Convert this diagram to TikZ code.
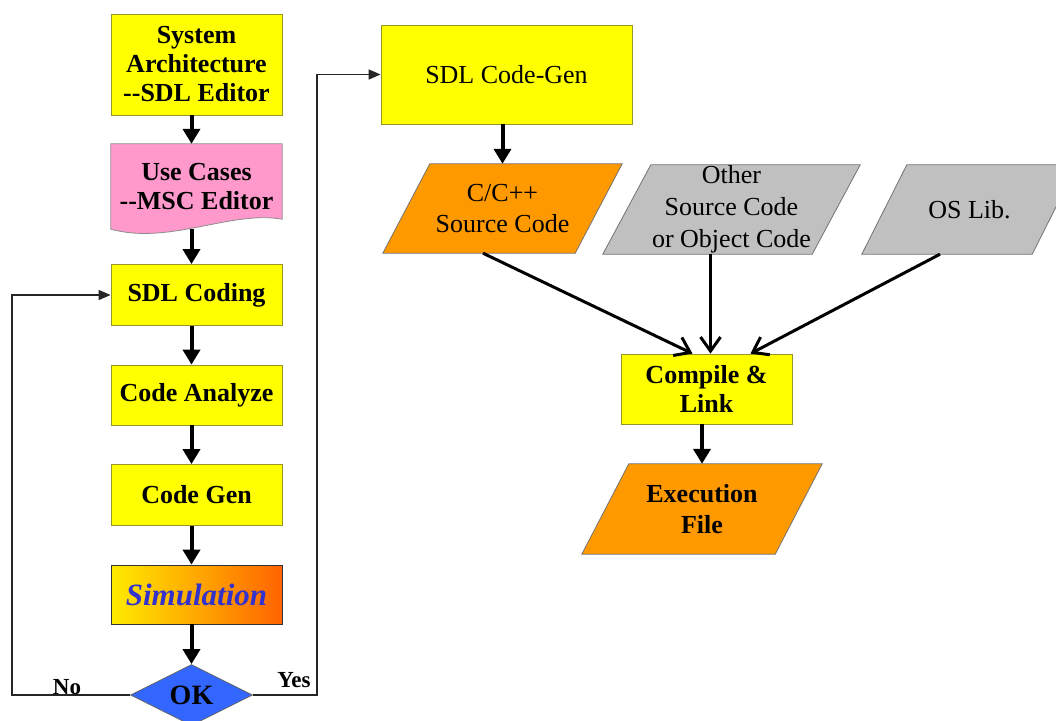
\documentclass[tikz,border=0pt]{standalone}
\usepackage{fontspec}
\setmainfont{Liberation Serif}
\usetikzlibrary{shapes.geometric,arrows.meta,backgrounds,calc}

\definecolor{boxyellow}{RGB}{255,255,0}
\definecolor{boxedge}{RGB}{150,150,40}
\definecolor{pinkfill}{RGB}{255,153,204}
\definecolor{orangefill}{RGB}{255,153,0}
\definecolor{grayfill}{RGB}{192,192,192}
\definecolor{okblue}{RGB}{51,102,255}
\definecolor{simtext}{RGB}{51,51,204}
\definecolor{simleft}{RGB}{255,235,0}
\definecolor{simmid}{RGB}{255,165,0}
\definecolor{simright}{RGB}{255,100,0}

\tikzset{
  txt/.style={font=\bfseries\fontsize{26}{29}\selectfont, align=center},
  flowbox/.style={txt, rectangle, draw=boxedge, line width=0.8pt, fill=boxyellow,
    minimum width=171pt, inner sep=0pt},
  databox/.style={rectangle, inner sep=0pt, minimum height=89pt,
    font=\fontsize{26}{31}\selectfont, align=center},
  dataedge/.style={draw=black!55, line width=0.8pt},
  bigarrow/.style={line width=4pt, -{Triangle[length=15pt,width=17pt]}},
  feedarrow/.style={line width=3pt, -{Straight Barb[length=14pt,width=20pt]}},
  loopline/.style={line width=1.3pt, draw=black!85, -{Triangle[length=12pt,width=10pt]}},
  answer/.style={font=\bfseries\fontsize{23}{23}\selectfont, inner sep=0pt},
}

% slanted data shape behind a named node: #1 node, #2 fill, #3 horizontal slant
\newcommand\slantshape[3]{%
  \begin{scope}[on background layer]
    \draw[dataedge, fill=#2] (#1.south west) -- ([xshift=-#3]#1.south east)
      -- (#1.north east) -- ([xshift=#3]#1.north west) -- cycle;
  \end{scope}}

\begin{document}
\begin{tikzpicture}[x=1pt,y=-1pt]
\useasboundingbox (0,0) rectangle (1056,720);
\begin{scope}[on background layer]
  \fill[white] (0,0) rectangle (1056,720);
\end{scope}
\clip (0,0) rectangle (1056,720);

% left column: design flow
\node[flowbox, minimum height=101pt] (arch) at (196.5,64.5)
  {System\\Architecture\\{-}{-}SDL Editor};
\node[txt, rectangle, minimum width=171pt, minimum height=85pt, inner sep=0pt] (uc)
  at (196.5,186.5) {Use Cases\\{-}{-}MSC Editor};
\begin{scope}[on background layer]
  \draw[fill=pinkfill, draw=black!45, line width=0.8pt]
    (uc.north west) -- (uc.north east) -- ($(uc.south east)+(0,-10)$)
    .. controls ($(uc.south east)+(-52,-19)$) and ($(uc.south west)+(59,16)$) ..
    (uc.south west) -- cycle;
\end{scope}
\node[flowbox, minimum height=61pt] (sdl) at (196.5,295) {SDL Coding};
\node[flowbox, minimum height=60pt] (analyze) at (196.5,395) {Code Analyze};
\node[flowbox, minimum height=61pt] (codegen) at (196.5,495) {Code Gen};
\node[flowbox, minimum height=59pt, left color=simleft, middle color=simmid,
  right color=simright, draw=black!80,
  font=\bfseries\itshape\fontsize{31}{31}\selectfont, text=simtext] (sim)
  at (196.5,594.5) {Simulation};
\node[diamond, aspect=2, draw=black!60, line width=0.8pt, fill=okblue,
  minimum width=122pt, minimum height=61pt, inner sep=0pt,
  font=\bfseries\fontsize{28}{28}\selectfont] (ok) at (191.5,695) {OK};

% right part: code generation and build
\node[flowbox, minimum width=251pt, minimum height=99pt,
  font=\fontsize{26}{29}\selectfont] (gen) at (506.5,74.5) {SDL Code-Gen};
\node[databox, minimum width=239pt] (cpp) at (502.5,208.5)
  {C/C++\\Source Code};
\slantshape{cpp}{orangefill}{47pt}
\node[databox, minimum width=257pt, font=\fontsize{26}{32}\selectfont] (other)
  at (731.5,209.5) {Other\\Source Code\\or Object Code};
\slantshape{other}{grayfill}{48pt}
\node[databox, minimum width=215pt] (oslib) at (969.5,209.5) {OS Lib.};
\slantshape{oslib}{grayfill}{45pt}
\node[flowbox, minimum height=70pt] (compile) at (706.5,389) {Compile \&\\Link};
\node[databox, minimum width=240pt, minimum height=90pt,
  font=\bfseries\fontsize{26}{31}\selectfont] (exec) at (702,509) {Execution\\File};
\slantshape{exec}{orangefill}{47pt}

% main flow arrows
\draw[bigarrow] (arch.south -| ok.north) -- (uc.north -| ok.north);
\draw[bigarrow] (uc.south -| ok.north) -- (sdl.north -| ok.north);
\draw[bigarrow] (sdl.south -| ok.north) -- (analyze.north -| ok.north);
\draw[bigarrow] (analyze.south -| ok.north) -- (codegen.north -| ok.north);
\draw[bigarrow] (codegen.south -| ok.north) -- (sim.north -| ok.north);
\draw[bigarrow] (sim.south -| ok.north) -- (ok.north);
\draw[bigarrow] (gen.south -| cpp.north) -- (cpp.north);
\draw[bigarrow] (compile.south -| exec.north) -- (exec.north);

% inputs of the build step
\coordinate (midtip) at ([xshift=4pt]compile.north);
\draw[feedarrow] ([xshift=-19.5pt]cpp.south) -- ([xshift=-14pt]compile.north);
\draw[feedarrow] (other.south -| midtip) -- (midtip);
\draw[feedarrow] ([xshift=-29.5pt]oslib.south) -- ([xshift=44pt]compile.north);

% decision branches
\coordinate (nocorner) at (12,695);
\coordinate (yescorner) at (317,695);
\draw[loopline] (ok.west) -- (nocorner) |- (sdl.west);
\draw[loopline] (ok.east) -- (yescorner) |- (gen.west);
\node[answer] (nolabel) at (67,687) {No};
\node[answer] (yeslabel) at (294,680) {Yes};
\end{tikzpicture}
\end{document}
